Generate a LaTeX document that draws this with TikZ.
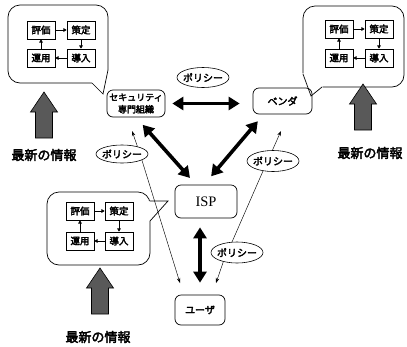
\documentclass[tikz,border=0pt]{standalone}
\usepackage{fontspec}
\newfontfamily\jpfont{Noto Sans CJK JP}[FakeBold=3]
\newfontfamily\romanfont{Liberation Serif}
\usetikzlibrary{shapes.geometric,arrows.meta}
\begin{document}
\begin{tikzpicture}[x=1pt,y=-1pt,
  box/.style={draw, rounded corners=6pt, line width=0.7pt, inner sep=0pt, align=center,
    font=\jpfont\fontsize{9}{12}\selectfont},
  pol/.style={draw, ellipse, line width=0.6pt, fill=white, inner sep=0pt, inner xsep=-1.8pt,
    minimum width=52pt, minimum height=20pt, font=\jpfont\fontsize{10}{10}\selectfont},
  cell/.style={draw, line width=0.7pt, minimum width=28pt, minimum height=18pt, inner sep=0pt,
    font=\jpfont\fontsize{9.5}{10}\selectfont},
  bubble/.style={draw, line width=0.7pt, rounded corners=12pt},
  tail/.style={draw, line width=0.7pt, line join=miter},
  bigflow/.style={line width=3.6pt, {Triangle[length=11pt,width=13pt]}-{Triangle[length=11pt,width=13pt]}},
  thinflow/.style={line width=0.45pt, -{Stealth[length=5pt,width=3.5pt]}},
  thinline/.style={line width=0.45pt},
  cyc/.style={line width=0.7pt, -{Triangle[length=3.2pt,width=3.6pt]}},
  info/.style={font=\jpfont\fontsize{13}{13}\selectfont},
  news/.style={draw, line width=0.6pt, fill=black!65}
]
\useasboundingbox (0,0) rectangle (407,346);

% ---- speech bubble, top left ----
\draw[bubble] (8,5) rectangle (108,83);
\fill[white] (107,70) -- (110,70) -- (110,85) -- (92,85) -- (92,82.3) -- cycle;
\draw[tail] (108,70) -- (103,94) -- (92,83);
\node[cell] (tlA) at (41,30) {評価};
\node[cell] (tlB) at (81,30) {策定};
\node[cell] (tlC) at (81,58) {導入};
\node[cell] (tlD) at (41,58) {運用};
\draw[cyc] (tlA) -- (tlB);
\draw[cyc] (tlB) -- (tlC);
\draw[cyc] (tlC) -- (tlD);
\draw[cyc] (tlD) -- (tlA);

% ---- speech bubble, top right ----
\draw[bubble] (303,6) rectangle (404,87);
\fill[white] (304,73.3) -- (301.5,73.3) -- (301.5,89) -- (322.6,89) -- (322.6,86.4) -- cycle;
\draw[tail] (303,74) -- (311,96) -- (322,87);
\node[cell] (trA) at (339,29) {評価};
\node[cell] (trB) at (379,29) {策定};
\node[cell] (trC) at (379,58) {導入};
\node[cell] (trD) at (339,58) {運用};
\draw[cyc] (trA) -- (trB);
\draw[cyc] (trB) -- (trC);
\draw[cyc] (trC) -- (trD);
\draw[cyc] (trD) -- (trA);

% ---- speech bubble, bottom left ----
\draw[bubble] (47,192) rectangle (150,265);
\fill[white] (148.5,201) rectangle (152,221);
\draw[tail] (149.6,201) -- (168,201) -- (150,221);
\node[cell] (blA) at (80,211) {評価};
\node[cell] (blB) at (119,211) {策定};
\node[cell] (blC) at (119,241) {導入};
\node[cell] (blD) at (80,241) {運用};
\draw[cyc] (blA) -- (blB);
\draw[cyc] (blB) -- (blC);
\draw[cyc] (blC) -- (blD);
\draw[cyc] (blD) -- (blA);

% ---- incoming information arrows ----
\foreach \ax/\ay in {44/92, 363/84, 100/268}
  \draw[news] (\ax,\ay) -- ++(13.5,20) -- ++(-5,0) -- ++(0,26) -- ++(-17,0)
    -- ++(0,-26) -- ++(-5,0) -- cycle;
\node[info] (infL) at (44,155) {最新の情報};
\node[info] (infR) at (370,153) {最新の情報};
\node[info] (infB) at (98,337) {最新の情報};

% ---- actors ----
\node[box, minimum width=58pt, minimum height=27pt] (sec) at (136,103.5) {セキュリティ\\専門組織};
\node[box, minimum width=59pt, minimum height=26pt, font=\jpfont\fontsize{10}{12}\selectfont] (ven) at (282.5,101) {ベンダ};
\node[box, minimum width=62pt, minimum height=33pt, font=\romanfont\fontsize{14.5}{16}\selectfont] (isp) at (206,201.5) {ISP};
\node[box, minimum width=50pt, minimum height=30pt, font=\jpfont\fontsize{10}{12}\selectfont] (usr) at (200,310) {ユーザ};

% ---- policy labels ----
\node[pol] (polT) at (203,77.5) {ポリシー};
\node[pol, minimum height=18pt] (polL) at (122,154) {ポリシー};
\node[pol, minimum height=21pt] (polR) at (273,161) {ポリシー};
\node[pol, minimum height=21pt] (polM) at (237,252.5) {ポリシー};

% ---- thick exchange arrows ----
\draw[bigflow, shorten <=7pt, shorten >=13pt] (sec.east) -- (sec.east -| ven.west);
\draw[bigflow, shorten <=10pt, shorten >=9pt] (sec.south) -- ([xshift=-10pt]isp.north);
\draw[bigflow, shorten <=9pt, shorten >=11pt] ([xshift=11pt]ven.south west) -- ([xshift=-2pt]isp.north);
\draw[bigflow, shorten <=9pt, shorten >=12pt] (usr.north |- isp.south) -- (usr.north);

% ---- thin policy lines ----
\coordinate (secIn) at (132,131);
\coordinate (venIn) at (281,131);
\coordinate (usrInL) at (180,283);
\coordinate (usrInR) at (216,283);
\draw[thinflow] (polL.26) -- (secIn);
\draw[thinflow] (polL.-17) -- (usrInL);
\draw[thinflow] (polR.93) -- (venIn);
\draw[thinline] (polR.225) -- (polM.115);
\draw[thinflow] (polM.214) -- (usrInR);
\end{tikzpicture}
\end{document}
